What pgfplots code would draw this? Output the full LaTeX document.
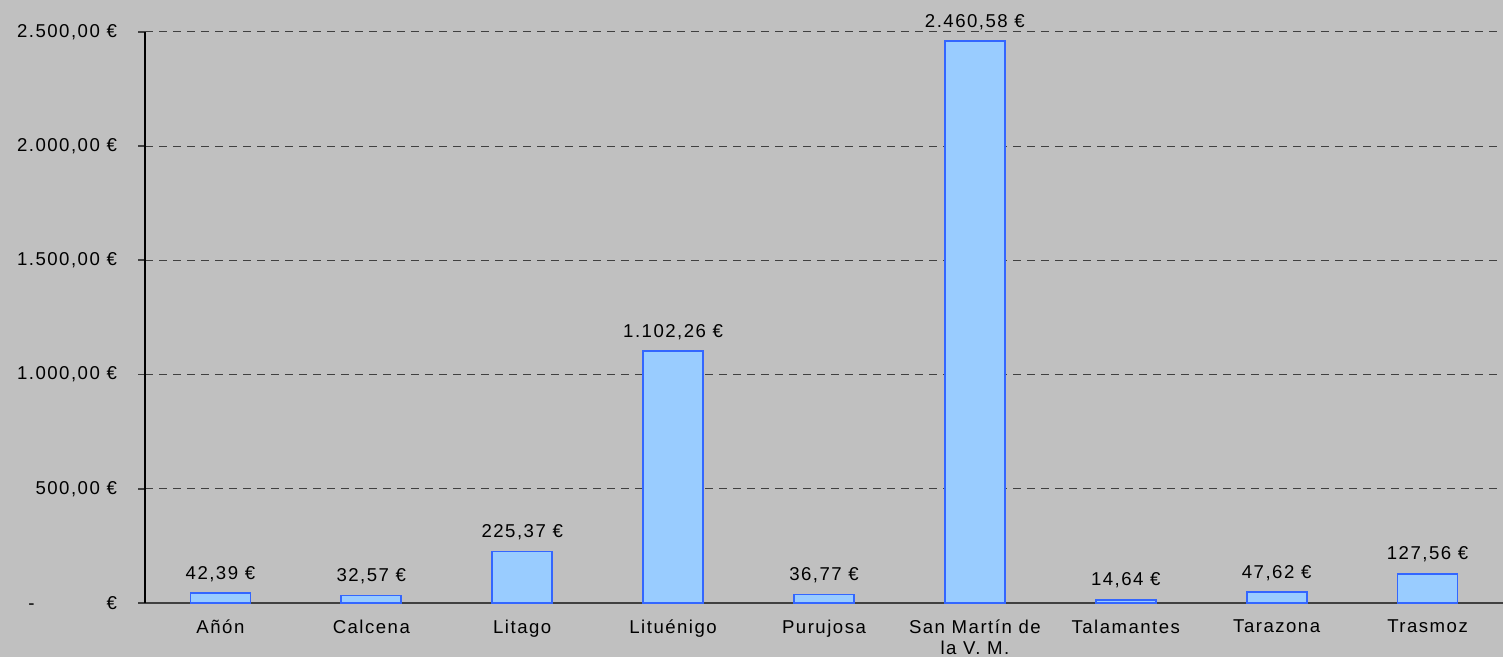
\documentclass[border=0pt]{standalone}
\usepackage{pgfplots}
\pgfplotsset{compat=1.18}
\usepackage{fontspec}
\setmainfont[LetterSpace=8]{Liberation Sans}
\usetikzlibrary{backgrounds}

\definecolor{bgc}{HTML}{C0C0C0}
\definecolor{barfill}{HTML}{99CCFF}
\definecolor{bardraw}{HTML}{3366FF}
\definecolor{gridc}{HTML}{404040}

\begin{document}
\begin{tikzpicture}[x=1pt,y=1pt]
\begin{axis}[
    at={(0,0)}, anchor=south west,
    scale only axis,
    width=679pt, height=285.5pt,
    xmin=-0.5, xmax=8.5,
    ymin=0, ymax=2500,
    axis x line*=bottom,
    axis y line*=left,
    x axis line style={gridc, line width=0.9pt, -},
    y axis line style={black, line width=0.6pt, -},
    font=\fontsize{9.3}{10.2}\selectfont,
    ytick={0,500,1000,1500,2000,2500},
    yticklabels={-\hspace{36pt}€, 500{,}00 €, 1.000{,}00 €, 1.500{,}00 €, 2.000{,}00 €, 2.500{,}00 €},
    yticklabel style={xshift=-7pt},
    ymajorgrids=true,
    grid style={gridc, dash pattern=on 4pt off 3pt, line width=0.5pt},
    tick align=outside,
    ytick style={gridc, line width=0.9pt},
    major tick length=3.5pt,
    xtick={0,...,8},
    xticklabels={Añón, Calcena, Litago, Lituénigo, Purujosa, {San Martín de\\la V. M.}, Talamantes, Tarazona, Trasmoz},
    xticklabel style={align=center, yshift=-1.5pt},
    x tick style={draw=none},
    extra x ticks={-0.5,0.5,1.5,2.5,3.5,4.5,5.5,6.5,7.5,8.5},
    extra x tick labels={},
    extra x tick style={major tick length=3.5pt, tick style={black, line width=0.6pt}},
    ybar, bar width=30pt,
    nodes near coords,
    point meta=explicit symbolic,
    every node near coord/.append style={yshift=2pt},
    clip=false,
]
\addplot[fill=barfill, draw=bardraw, line width=0.9pt] coordinates {
    (0,42.39) [42{,}39 €]
    (1,32.57) [32{,}57 €]
    (2,225.37) [225{,}37 €]
    (3,1102.26) [1.102{,}26 €]
    (4,36.77) [36{,}77 €]
    (5,2460.58) [2.460{,}58 €]
    (6,14.64) [14{,}64 €]
    (7,47.62) [47{,}62 €]
    (8,127.56) [127{,}56 €]
};
\end{axis}
\begin{scope}[on background layer]
\fill[bgc] (-72.5,-27) rectangle (679,301.5);
\end{scope}
\pgfresetboundingbox
\path[use as bounding box] (-72.5,-27) rectangle (679,301.5);
\end{tikzpicture}
\end{document}
